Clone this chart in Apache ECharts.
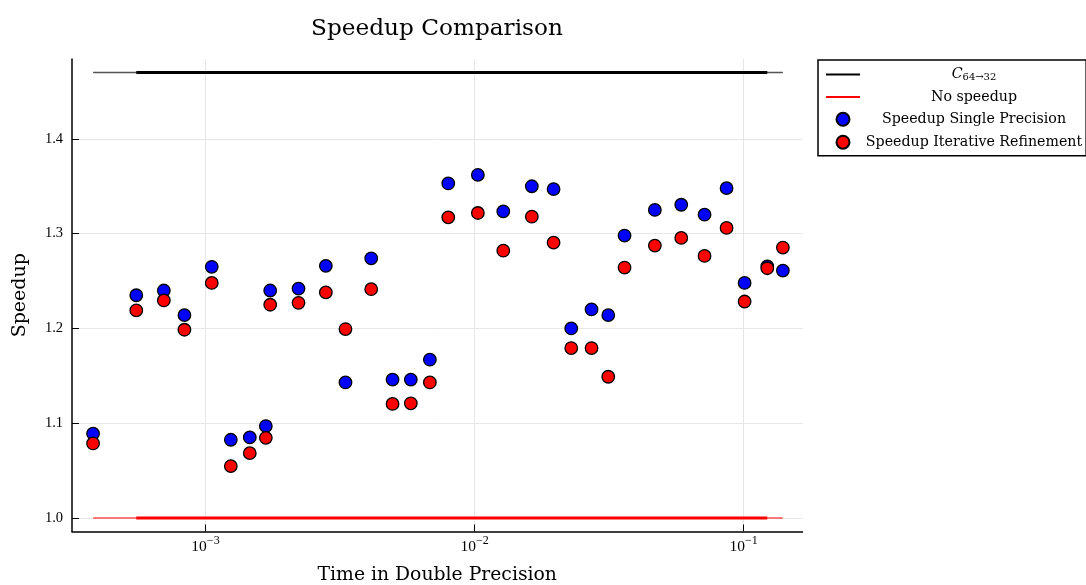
<!DOCTYPE html>
<html>
<head>
<meta charset="utf-8">
<script src="https://cdn.jsdelivr.net/npm/echarts@6/dist/echarts.min.js"></script>
<style>
html,body{margin:0;padding:0;background:#fff;}
#chart{width:1086px;height:585px;}
</style>
</head>
<body>
<div id="chart"></div>
<script>
// ---- data ----
const timeDouble = [3.82e-4, 5.53e-4, 7.00e-4, 8.35e-4, 1.055e-3, 1.242e-3, 1.461e-3, 1.676e-3,
  1.740e-3, 2.217e-3, 2.801e-3, 3.314e-3, 4.130e-3, 4.958e-3, 5.797e-3, 6.823e-3,
  7.986e-3, 1.029e-2, 1.279e-2, 1.633e-2, 1.967e-2, 2.288e-2, 2.722e-2, 3.141e-2,
  3.611e-2, 4.680e-2, 5.866e-2, 7.161e-2, 8.646e-2, 0.1009, 0.1225, 0.1400];
const speedupSingle = [1.089, 1.235, 1.240, 1.214, 1.265, 1.0825, 1.085, 1.097,
  1.240, 1.242, 1.266, 1.143, 1.274, 1.146, 1.146, 1.167,
  1.353, 1.362, 1.3235, 1.350, 1.347, 1.200, 1.220, 1.214,
  1.298, 1.325, 1.3305, 1.320, 1.348, 1.248, 1.2655, 1.261];
const speedupRefinement = [1.0786, 1.219, 1.2295, 1.1986, 1.248, 1.0547, 1.0684, 1.0845,
  1.225, 1.227, 1.238, 1.1993, 1.2414, 1.1203, 1.121, 1.143,
  1.3172, 1.3218, 1.282, 1.3179, 1.2905, 1.1793, 1.1793, 1.149,
  1.2642, 1.2874, 1.2955, 1.2765, 1.306, 1.2284, 1.2635, 1.2853];
const c64to32 = 1.47;
const noSpeedup = 1.0;
const xTickValues = [1e-3, 1e-2, 1e-1];
const yTickValues = [1.0, 1.1, 1.2, 1.3, 1.4];
const seriesNames = ['C64→32', 'No speedup', 'Speedup Single Precision', 'Speedup Iterative Refinement'];
// --------------------------------------

const SERIF = '"DejaVu Serif", serif';
const TICKF = '"Liberation Serif", serif';
const LINE_ICON = 'path://M0,0 L34,0 L34,2 L0,2 Z';

const pairs = (xs, ys) => xs.map((x, i) => [x, Array.isArray(ys) ? ys[i] : ys]);
const inner = timeDouble.slice(1, timeDouble.length - 1);

const chart = echarts.init(document.getElementById('chart'), null, {renderer: 'canvas'});
chart.setOption({
  animation: false,
  backgroundColor: '#ffffff',
  title: {
    text: 'Speedup Comparison',
    left: 432, top: 12, textAlign: 'center',
    textStyle: {fontFamily: SERIF, fontSize: 23.2, fontWeight: 'normal', color: '#000'}
  },
  grid: {left: 72, right: 283.5, top: 59, bottom: 53.5, containLabel: false, outerBoundsMode: 'none'},
  xAxis: {
    type: 'log',
    min: 3.19e-4, max: 0.1656,
    name: 'Time in Double Precision',
    nameLocation: 'middle', nameGap: 34,
    nameTextStyle: {fontFamily: SERIF, fontSize: 18.8, color: '#000'},
    axisLine: {show: true, onZero: false, lineStyle: {color: '#000', width: 1.5}},
    axisTick: {show: true, inside: true, length: 7, customValues: xTickValues, lineStyle: {color: '#000', width: 1}},
    minorTick: {show: false},
    splitLine: {show: true, lineStyle: {color: '#e6e6e6', width: 1}},
    axisLabel: {
      customValues: xTickValues,
      margin: 3,
      formatter: v => '{b|10}{s|−' + Math.abs(Math.round(Math.log10(v))) + '}',
      rich: {
        b: {fontFamily: TICKF, fontSize: 15.5, color: '#000', verticalAlign: 'bottom', lineHeight: 20},
        s: {fontFamily: TICKF, fontSize: 12, color: '#000', verticalAlign: 'top', lineHeight: 20}
      }
    }
  },
  yAxis: {
    type: 'value',
    min: 0.9857, max: 1.4843,
    name: 'Speedup',
    nameLocation: 'middle', nameGap: 42, nameRotate: 90,
    nameTextStyle: {fontFamily: SERIF, fontSize: 19, color: '#000'},
    axisLine: {show: true, onZero: false, lineStyle: {color: '#000', width: 1.5}},
    axisTick: {show: true, inside: true, length: 7, customValues: yTickValues, lineStyle: {color: '#000', width: 1}},
    splitLine: {show: true, lineStyle: {color: '#e6e6e6', width: 1}},
    axisLabel: {
      customValues: yTickValues,
      margin: 9,
      formatter: v => v.toFixed(1),
      fontFamily: TICKF, fontSize: 14.5, color: '#000'
    }
  },
  legend: {
    orient: 'vertical',
    left: 818, top: 60,
    data: [
      {name: seriesNames[0], icon: LINE_ICON},
      {name: seriesNames[1], icon: LINE_ICON},
      {name: seriesNames[2]},
      {name: seriesNames[3]}
    ],
    padding: [7, 4, 6, 8],
    itemGap: 7.9,
    itemWidth: 34, itemHeight: 13,
    symbolKeepAspect: true,
    borderColor: '#000', borderWidth: 1.5, borderRadius: 0,
    backgroundColor: '#fff',
    selectedMode: false,
    formatter: name => {
      if (name === seriesNames[0]) return '{i|C}{s|64→32}';
      return '{t|' + name + '}';
    },
    textStyle: {
      width: 218,
      fontFamily: SERIF, fontSize: 14.2, color: '#000',
      rich: {
        t: {fontFamily: SERIF, fontSize: 14.2, color: '#000', align: 'center', lineHeight: 13},
        i: {fontFamily: SERIF, fontSize: 14.2, fontStyle: 'italic', color: '#000', align: 'center', lineHeight: 13},
        s: {fontFamily: SERIF, fontSize: 10, color: '#000', align: 'center', lineHeight: 13, padding: [5, 0, 0, 0]}
      }
    }
  },
  series: [
    {name: 'c64thin', type: 'line', data: pairs(timeDouble, c64to32), symbol: 'none',
      lineStyle: {color: '#555', width: 1.5}, itemStyle: {color: '#555'}, z: 2, silent: true},
    {name: seriesNames[0], type: 'line', data: pairs(inner, c64to32), symbol: 'none',
      lineStyle: {color: '#000', width: 3}, itemStyle: {color: '#000'}, z: 3},
    {name: 'nothin', type: 'line', data: pairs(timeDouble, noSpeedup), symbol: 'none',
      lineStyle: {color: '#ff5050', width: 1.5}, itemStyle: {color: '#ff5050'}, z: 2, silent: true},
    {name: seriesNames[1], type: 'line', data: pairs(inner, noSpeedup), symbol: 'none',
      lineStyle: {color: '#ff0000', width: 3}, itemStyle: {color: '#ff0000'}, z: 3},
    {name: seriesNames[2], type: 'scatter', data: pairs(timeDouble, speedupSingle),
      symbol: 'circle', symbolSize: 12.5,
      itemStyle: {color: '#0000ff', borderColor: '#000', borderWidth: 1.3, opacity: 1}, z: 4},
    {name: seriesNames[3], type: 'scatter', data: pairs(timeDouble, speedupRefinement),
      symbol: 'circle', symbolSize: 12.5,
      itemStyle: {color: '#ff0000', borderColor: '#000', borderWidth: 1.3, opacity: 1}, z: 5}
  ]
});
</script>
</body>
</html>
